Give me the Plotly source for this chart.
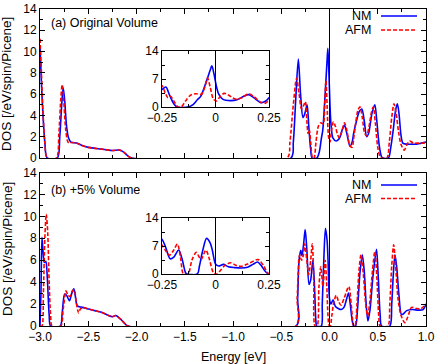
import plotly.graph_objects as go

# (a) original volume
e_nm_a = [-3.0, -2.985, -2.97, -2.95, -2.925, -2.82, -2.795, -2.775, -2.76, -2.745, -2.725, -2.705, -2.68,
          -2.62, -2.57, -2.5, -2.42, -2.33, -2.25, -2.18, -2.14, -2.09, -2.05,
          -0.40, -0.375, -0.35, -0.323, -0.30, -0.275, -0.255, -0.232, -0.215, -0.195, -0.18,
          -0.13, -0.105, -0.085, -0.07, -0.055, -0.04, -0.025, -0.017, -0.008,
          0.005, 0.015, 0.035, 0.07, 0.10, 0.13, 0.155, 0.18, 0.212, 0.235, 0.25, 0.28, 0.31, 0.335,
          0.36, 0.385, 0.405, 0.44, 0.47, 0.49, 0.515, 0.54, 0.555, 0.61, 0.635, 0.66, 0.685, 0.703,
          0.72, 0.74, 0.76, 0.8, 0.85, 0.9, 0.95, 1.0]
dos_nm_a = [10.5, 7.0, 4.2, 1.5, 0, 0, 2.0, 5.0, 6.6, 5.5, 3.0, 1.9, 1.5,
            1.4, 1.2, 1.0, 0.9, 0.8, 0.7, 0.75, 0.6, 0.2, 0,
            0, 1.5, 5.5, 9.3, 6.0, 3.8, 4.2, 5.0, 3.0, 0.8, 0,
            0, 0.6, 1.8, 2.6, 4.5, 6.8, 9.2, 10.3, 8.5,
            5.0, 3.2, 1.9, 1.6, 1.8, 2.6, 3.1, 2.3, 1.1, 1.5, 2.3, 3.5, 4.4, 4.6,
            3.5, 2.0, 2.3, 4.2, 5.0, 3.5, 1.2, 0.1, 0, 0, 1.0, 2.6, 4.5, 5.1,
            4.2, 2.2, 1.4, 1.3, 1.3, 1.3, 1.4, 1.5]

e_afm_a = [-3.0, -2.985, -2.97, -2.95, -2.925, -2.83, -2.805, -2.785, -2.77, -2.755, -2.735, -2.715, -2.70,
           -2.675, -2.62, -2.57, -2.5, -2.42, -2.33, -2.25, -2.18, -2.14, -2.09, -2.05,
           -0.44, -0.41, -0.375, -0.341, -0.315, -0.29, -0.265, -0.25, -0.235, -0.222, -0.21, -0.195,
           -0.175, -0.16, -0.14, -0.115, -0.09, -0.065, -0.05, -0.037, -0.025, -0.01,
           0.005, 0.02, 0.04, 0.06, 0.08, 0.1, 0.125, 0.155, 0.18, 0.21, 0.235, 0.25, 0.27, 0.295, 0.316,
           0.34, 0.365, 0.385, 0.41, 0.435, 0.454, 0.475, 0.5, 0.525, 0.54, 0.595, 0.62, 0.645, 0.668,
           0.69, 0.715, 0.74, 0.775, 0.80, 0.83, 0.87, 0.93, 1.0]
dos_afm_a = [11.2, 8.0, 4.5, 1.5, 0, 0, 2.2, 5.5, 6.9, 5.5, 2.8, 1.6, 1.4,
             1.45, 1.4, 1.2, 1.0, 0.9, 0.8, 0.7, 0.75, 0.6, 0.2, 0,
             0, 1.5, 5.0, 7.5, 6.0, 4.6, 5.0, 5.3, 3.5, 2.3, 2.7, 1.5,
             0, 0, 1.5, 3.0, 3.3, 3.2, 5.0, 7.3, 5.0, 2.0,
             1.5, 2.5, 3.4, 3.0, 2.3, 1.9, 2.4, 3.3, 2.6, 1.2, 1.0, 1.8, 3.2, 4.5, 4.8,
             3.8, 2.3, 2.1, 3.0, 4.3, 4.8, 3.3, 1.0, 0.1, 0, 0, 1.5, 3.8, 5.1,
             4.2, 2.5, 1.3, 0.74, 1.2, 1.6, 1.4, 1.4, 1.4]

# (b) +5% volume
e_nm_b = [-3.0, -2.99, -2.98, -2.97, -2.955, -2.94, -2.925, -2.905, -2.89, -2.79, -2.77, -2.745, -2.725,
          -2.695, -2.67, -2.65, -2.635, -2.615, -2.59, -2.56, -2.5, -2.43, -2.365, -2.3, -2.25, -2.215,
          -2.18, -2.14, -2.09,
          -0.345, -0.33, -0.315, -0.298, -0.285, -0.268, -0.252, -0.235, -0.212, -0.195, -0.172, -0.155,
          -0.14, -0.133, -0.085, -0.075, -0.06, -0.042, -0.025, -0.015, 0.0, 0.015, 0.037, 0.06, 0.09,
          0.12, 0.15, 0.175, 0.197, 0.215, 0.235, 0.25, 0.27, 0.29, 0.315, 0.34, 0.36, 0.38, 0.398,
          0.42, 0.45, 0.487, 0.505, 0.525, 0.54, 0.625, 0.645, 0.66, 0.678, 0.695, 0.72, 0.745, 0.765,
          0.8, 0.86, 0.92, 0.97, 1.0]
dos_nm_b = [0, 3.0, 8.1, 7.0, 5.8, 5.9, 4.5, 1.0, 0, 0, 1.2, 2.9, 2.8,
            2.3, 3.0, 3.4, 2.8, 1.85, 1.75, 1.7, 1.55, 1.4, 1.25, 1.0, 0.85, 0.95,
            0.75, 0.4, 0,
            0, 2.5, 6.0, 6.9, 6.4, 7.5, 8.8, 7.0, 3.8, 4.2, 6.0, 3.5,
            0.3, 0, 0, 2.0, 5.8, 8.9, 7.8, 6.0, 2.5, 2.0, 2.4, 1.8, 1.6,
            1.5, 1.7, 2.4, 3.0, 2.0, 0.5, 0, 0, 1.5, 4.8, 6.5, 5.0, 2.0, 0.45,
            1.5, 4.5, 7.0, 4.5, 1.0, 0, 0, 2.0, 4.5, 6.5, 5.5, 2.8, 1.05, 1.1,
            1.4, 1.5, 1.45, 1.5, 2.0]

e_afm_b = [-3.0, -2.98, -2.965, -2.95, -2.935, -2.92, -2.905, -2.89, -2.875, -2.785, -2.76, -2.73, -2.71,
           -2.69, -2.665, -2.645, -2.625, -2.6, -2.585, -2.56, -2.5, -2.43, -2.365, -2.3, -2.25, -2.215,
           -2.18, -2.14, -2.09,
           -0.35, -0.335, -0.31, -0.29, -0.27, -0.257, -0.235, -0.215, -0.195, -0.178, -0.163, -0.15,
           -0.128, -0.11, -0.09, -0.068, -0.045, -0.03, -0.01, 0.0, 0.008, 0.025, 0.045, 0.07, 0.095,
           0.12, 0.15, 0.2, 0.225, 0.245, 0.255, 0.265, 0.285, 0.305, 0.326, 0.35, 0.375, 0.395,
           0.415, 0.445, 0.47, 0.49, 0.51, 0.525, 0.605, 0.625, 0.645, 0.665, 0.685, 0.71, 0.74, 0.78,
           0.81, 0.85, 0.9, 0.95, 1.0]
dos_afm_b = [0, 0, 3.0, 8.0, 10.2, 8.5, 4.0, 1.0, 0, 0, 1.5, 3.2, 2.8,
             2.7, 3.2, 3.3, 2.2, 1.2, 1.5, 1.7, 1.55, 1.4, 1.25, 1.0, 0.85, 0.95,
             0.75, 0.4, 0,
             0, 2.5, 6.5, 6.0, 6.5, 7.5, 6.0, 4.7, 6.0, 7.5, 4.0, 0,
             0, 3.5, 5.4, 3.6, 6.0, 4.0, 0.3, 0, 0, 1.0, 2.2, 2.8, 2.2,
             1.9, 2.5, 3.6, 2.0, 0.2, 0, 0, 2.0, 5.0, 6.5, 4.8, 2.0, 0.9,
             2.0, 5.0, 6.8, 4.5, 1.0, 0, 0, 2.0, 5.5, 7.4, 5.5, 2.5, 1.0, 0.3,
             0.8, 1.7, 1.6, 1.6, 2.0]

main_ticks = [-3.0, -2.5, -2.0, -1.5, -1.0, -0.5, 0.0, 0.5, 1.0]
dos_ticks = [0, 2, 4, 6, 8, 10, 12, 14]
inset_xticks = [-0.25, 0, 0.25]
inset_xlabels = ["\u22120.25", "0", "0.25"]
inset_yticks = [0, 7, 14]

BLUE = "#0000ff"
RED = "#ff0000"
FONT = "Liberation Sans, Arial, sans-serif"
FS = 12.5

fig = go.Figure()
panels = [(e_nm_a, dos_nm_a, e_afm_a, dos_afm_a, ["x2", "x3"], ["y2", "y3"]),
          (e_nm_b, dos_nm_b, e_afm_b, dos_afm_b, ["x", "x4"], ["y", "y4"])]
for e_nm, d_nm, e_afm, d_afm, xs, ys in panels:
    for xa, ya in zip(xs, ys):
        fig.add_trace(go.Scatter(x=e_nm, y=d_nm, mode="lines", xaxis=xa, yaxis=ya,
                                 line=dict(color=BLUE, width=1.6, shape="spline", smoothing=0.8),
                                 showlegend=False, hoverinfo="skip"))
        fig.add_trace(go.Scatter(x=e_afm, y=d_afm, mode="lines", xaxis=xa, yaxis=ya,
                                 line=dict(color=RED, width=1.6, dash="4px,2px", shape="spline", smoothing=0.8),
                                 showlegend=False, hoverinfo="skip"))

frame = dict(showline=True, linecolor="black", linewidth=1, mirror="ticks", ticks="inside",
             tickcolor="black", showgrid=False, zeroline=False, automargin=False,
             ticklabeloverflow="allow",
             tickfont=dict(family=FONT, size=12, color="black"))

main_x = dict(frame, range=[-3.0, 1.0], tickvals=main_ticks, tickformat=".1f", ticklen=5,
              minor=dict(dtick=0.25, tick0=-3, ticklen=3, ticks="inside", tickcolor="black"))
main_y = dict(frame, range=[0, 14], tickvals=dos_ticks, ticklen=5,
              minor=dict(dtick=1, tick0=0, ticklen=3, ticks="inside", tickcolor="black"))
ins_x = dict(frame, range=[-0.25, 0.25], tickvals=inset_xticks, ticktext=inset_xlabels, ticklen=4,
             minor=dict(dtick=0.125, tick0=-0.25, ticklen=3, ticks="inside", tickcolor="black"))
ins_y = dict(frame, range=[0, 14], tickvals=inset_yticks, ticklen=4,
             minor=dict(dtick=3.5, tick0=0, ticklen=3, ticks="inside", tickcolor="black"))

# plot area: 40..426 px wide, 9..326 px tall (317 px)
TOP, BOT = 9, 326
H = BOT - TOP

def py(p):
    return (BOT - p) / H

def px(p):
    return (p - 40) / 386

fig.update_layout(
    width=436, height=364,
    margin=dict(l=40, r=10, t=TOP, b=364 - BOT),
    paper_bgcolor="white", plot_bgcolor="white",
    font=dict(family=FONT, size=FS, color="black"),
    xaxis=dict(main_x, anchor="y", domain=[0, 1]),
    yaxis=dict(main_y, anchor="x", domain=[0, py(172.5)]),
    xaxis2=dict(main_x, anchor="y2", domain=[0, 1], showticklabels=False),
    yaxis2=dict(main_y, anchor="x2", domain=[py(158), 1]),
    xaxis3=dict(ins_x, anchor="y3", domain=[px(162), px(269)]),
    yaxis3=dict(ins_y, anchor="x3", domain=[py(107), py(51)]),
    xaxis4=dict(ins_x, anchor="y4", domain=[px(162), px(269)]),
    yaxis4=dict(ins_y, anchor="x4", domain=[py(274), py(218)]),
)

# Fermi level markers
for xa, ya in [("x", "y"), ("x2", "y2"), ("x3", "y3"), ("x4", "y4")]:
    fig.add_shape(type="line", xref=xa, yref=ya + " domain", x0=0, x1=0, y0=0, y1=1,
                  line=dict(color="black", width=1))

ann = []
ann.append(dict(text="(a) Original Volume", x=px(49), y=py(23), xanchor="left", yanchor="middle"))
ann.append(dict(text="(b) +5% Volume", x=px(49), y=py(190), xanchor="left", yanchor="middle"))
for yc in (84, 249):
    ann.append(dict(text="DOS [/eV/spin/Picene]", x=px(7), y=py(yc), textangle=-90,
                    xanchor="center", yanchor="middle", font=dict(family=FONT, size=13.5, color="black")))
ann.append(dict(text="Energy [eV]", x=0.5, y=py(357), xanchor="center", yanchor="middle"))

# legends
for y_nm, y_afm in [(16, 30), (185, 198.5)]:
    ann.append(dict(text="NM", x=px(373), y=py(y_nm), xanchor="right", yanchor="middle"))
    ann.append(dict(text="AFM", x=px(373), y=py(y_afm), xanchor="right", yanchor="middle"))
    fig.add_shape(type="line", xref="paper", yref="paper", x0=px(381), x1=px(417),
                  y0=py(y_nm), y1=py(y_nm), line=dict(color=BLUE, width=1.6))
    fig.add_shape(type="line", xref="paper", yref="paper", x0=px(381), x1=px(417),
                  y0=py(y_afm), y1=py(y_afm), line=dict(color=RED, width=1.6, dash="4px,2px"))

for a in ann:
    a.update(xref="paper", yref="paper", showarrow=False)
    a.setdefault("font", dict(family=FONT, size=FS, color="black"))
fig.update_layout(annotations=ann)

fig.write_html("out.html", config={"displayModeBar": False},
               post_script="document.body.style.margin='0px';")
